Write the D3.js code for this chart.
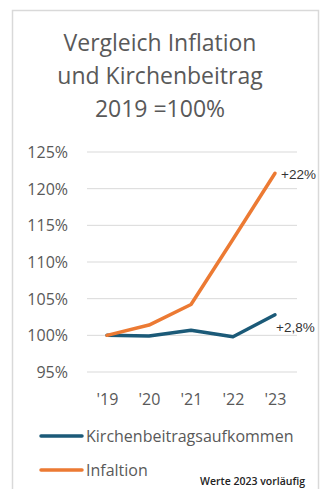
<!DOCTYPE html>
<html><head><meta charset="utf-8">
<script src="https://cdn.jsdelivr.net/npm/d3@7"></script>
<style>body{margin:0;background:#fff}svg{display:block}</style>
</head><body><div id="c"></div>
<script>
const years = ["'19","'20","'21","'22","'23"];
const kirchenbeitrag = [100, 99.9, 100.7, 99.8, 102.8];
const inflation = [100, 101.4, 104.2, 113.1, 122.1];
const yTicks = [95,100,105,110,115,120,125];
const titleLines = ["Vergleich Inflation","und Kirchenbeitrag","2019 =100%"];
const seriesNames = ["Kirchenbeitragsaufkommen","Infaltion"];
const endLabels = ["+2,8%","+22%"];
const colors = ["#1b5a78","#ec7a33"];

const W=323,H=489;
const svg=d3.select("#c").append("svg").attr("width",W).attr("height",H);
svg.append("rect").attr("x",12.5).attr("y",10.5).attr("width",306).attr("height",490)
  .attr("fill","#fff").attr("stroke","#d9d9d9").attr("stroke-width",1.5);

const font="'Open Sans', 'Noto Sans', sans-serif";
svg.append("g").selectAll("text").data(titleLines).join("text")
  .attr("x",160).attr("y",(d,i)=>51+i*33).attr("text-anchor","middle")
  .attr("font-family",font).attr("font-size",23).attr("fill","#595959").text(d=>d);

const x=d3.scalePoint().domain(years).range([107,275]);
const y=d3.scaleLinear().domain([95,125]).range([372,152]);

const grid=svg.append("g");
grid.selectAll("line").data(yTicks).join("line")
  .attr("x1",87).attr("x2",297).attr("y1",d=>y(d)).attr("y2",d=>y(d))
  .attr("stroke","#d9d9d9").attr("stroke-width",1);

const yAxis=d3.axisLeft(y).tickValues(yTicks).tickFormat(d=>d+"%").tickSize(0).tickPadding(0);
const ya=svg.append("g").attr("transform","translate(68,0)").call(yAxis);
ya.select(".domain").remove();
ya.selectAll("text").attr("font-family",font).attr("font-size",16).attr("fill","#595959").attr("dy","0.35em");

const xAxis=d3.axisBottom(x).tickSize(0).tickPadding(0);
const xa=svg.append("g").attr("transform","translate(0,399)").call(xAxis);
xa.select(".domain").remove();
xa.selectAll("text").attr("font-family",font).attr("font-size",16).attr("fill","#595959").attr("dy","0.35em");

const line=d3.line().x((d,i)=>x(years[i])).y(d=>y(d));
[kirchenbeitrag,inflation].forEach((s,k)=>{
  svg.append("path").datum(s).attr("d",line).attr("fill","none")
    .attr("stroke",colors[k]).attr("stroke-width",3.5).attr("stroke-linejoin","round").attr("stroke-linecap","round");
});
// end labels
svg.append("text").attr("x",x(years[4])+1).attr("y",y(kirchenbeitrag[4])+17)
  .attr("font-family","'Liberation Sans', Arial, sans-serif").attr("font-size",13.5).attr("fill","#333").text(endLabels[0]);
svg.append("text").attr("x",x(years[4])+6).attr("y",y(inflation[4])+6)
  .attr("font-family","'Liberation Sans', Arial, sans-serif").attr("font-size",13.5).attr("fill","#333").text(endLabels[1]);

// legend
const lg=svg.append("g");
seriesNames.forEach((n,i)=>{
  const yy=436+i*34;
  lg.append("line").attr("x1",41).attr("x2",82).attr("y1",yy).attr("y2",yy)
    .attr("stroke",colors[i]).attr("stroke-width",3.5).attr("stroke-linecap","round");
  lg.append("text").attr("x",86).attr("y",yy).attr("dy","0.35em")
    .attr("font-family",font).attr("font-size",16).attr("fill","#595959").text(n);
});
svg.append("text").attr("x",305).attr("y",485).attr("text-anchor","end")
  .attr("font-family","'Open Sans', sans-serif").attr("font-weight",600).attr("font-size",10.5).attr("fill","#222").text("Werte 2023 vorläufig");
</script></body></html>
